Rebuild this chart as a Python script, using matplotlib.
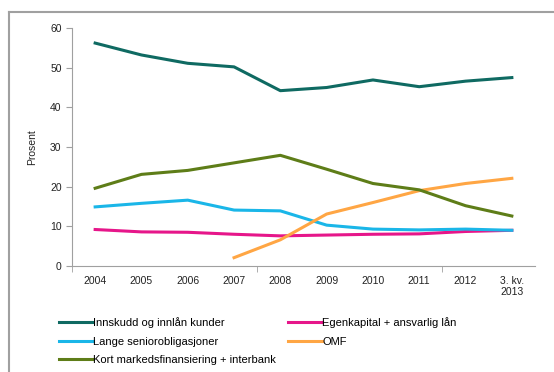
import numpy as np
import matplotlib
matplotlib.use("Agg")
import matplotlib.pyplot as plt

plt.rcParams['font.family'] = ['Liberation Sans', 'DejaVu Sans']

categories = ["2004", "2005", "2006", "2007", "2008", "2009", "2010", "2011", "2012", "3. kv.\n2013"]

innskudd = [56.2, 53.2, 51.1, 50.2, 44.2, 45.0, 46.9, 45.2, 46.6, 47.5]
egenkapital = [9.2, 8.6, 8.5, 8.0, 7.6, 7.8, 8.0, 8.1, 8.7, 9.0]
lange = [14.9, 15.8, 16.6, 14.1, 13.9, 10.3, 9.3, 9.1, 9.3, 9.0]
omf = [np.nan, np.nan, np.nan, 2.1, 6.6, 13.1, 16.0, 19.0, 20.8, 22.1]
kort = [19.6, 23.1, 24.1, 26.0, 27.9, 24.4, 20.8, 19.2, 15.2, 12.6]

fig = plt.figure(figsize=(5.54, 3.72), dpi=100)
ax = fig.add_axes([72/554, 1 - 266/372, 463/554, 238/372])

x = np.arange(len(categories))
lw = 2.2
l1, = ax.plot(x, innskudd, color="#0f6a62", lw=lw, label="Innskudd og innlån kunder")
l2, = ax.plot(x, egenkapital, color="#e6168a", lw=lw, label="Egenkapital + ansvarlig lån")
l3, = ax.plot(x, lange, color="#1ab6e8", lw=lw, label="Lange seniorobligasjoner")
l4, = ax.plot(x, omf, color="#ffa644", lw=lw, label="OMF")
l5, = ax.plot(x, kort, color="#5e7d18", lw=lw, label="Kort markedsfinansiering + interbank")

ax.set_xlim(-0.5, len(categories) - 0.5)
ax.set_ylim(0, 60)
ax.set_yticks(range(0, 61, 10))
ax.set_xticks(x)
ax.set_xticklabels(categories, fontsize=7.5, color="#222222")
ax.tick_params(axis='x', length=0, pad=7)
ax.set_xticks([-0.5, 3.5, 7.5], minor=True)
ax.tick_params(axis='x', which='minor', length=4, color="#a0a0a0")
ax.tick_params(axis='y', labelsize=7.5, labelcolor="#222222", length=4, color="#a0a0a0")
for lab in ax.get_xticklabels():
    lab.set_horizontalalignment('center')
    lab.set_multialignment('right')

for s in ['top', 'right']:
    ax.spines[s].set_visible(False)
for s in ['left', 'bottom']:
    ax.spines[s].set_color("#a0a0a0")
    ax.spines[s].set_linewidth(0.8)

ax.set_ylabel("Prosent", fontsize=7.5, color="#222222", labelpad=9)

fig.legend(handles=[l1, l3, l5, l2, l4], loc="upper left", bbox_to_anchor=(55/554, 1 - 313/372),
           ncol=2, frameon=False, fontsize=8, handlelength=3.0, handletextpad=0.05,
           columnspacing=1.1, labelspacing=0.75, borderaxespad=0)

# frame lines of the figure box
fig.add_artist(plt.Line2D([9/554, 9/554], [0, 1 - 12/372], color="#a0a0a0", lw=1.5))
fig.add_artist(plt.Line2D([9/554, 1], [1 - 12/372, 1 - 12/372], color="#a0a0a0", lw=1.5))

fig.savefig("out.png", dpi=100)
